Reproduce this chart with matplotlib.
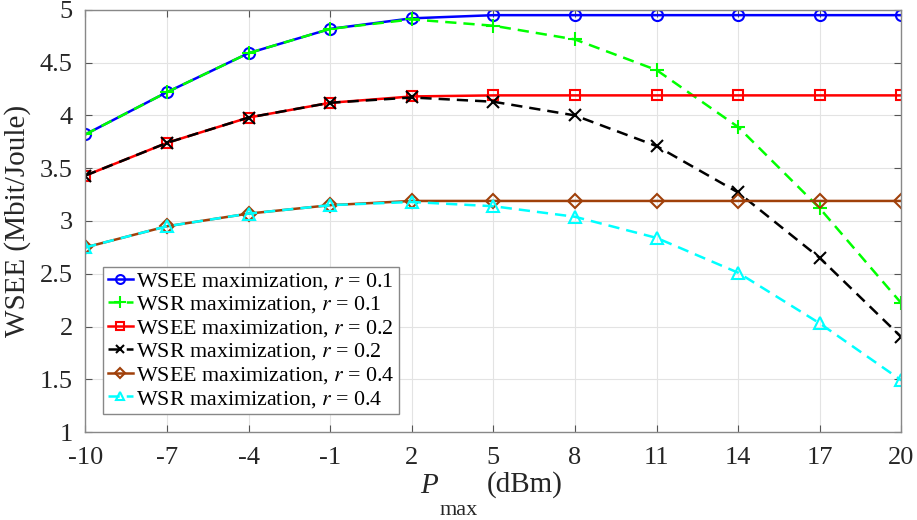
import matplotlib
matplotlib.use("Agg")
import matplotlib.pyplot as plt
import numpy as np

plt.rcParams['font.family'] = ['Liberation Serif', 'DejaVu Serif']
plt.rcParams['mathtext.fontset'] = 'stix'
plt.rcParams['axes.unicode_minus'] = False

p_max = [-10, -7, -4, -1, 2, 5, 8, 11, 14, 17, 20]

wsee_r01 = [3.82, 4.22, 4.59, 4.82, 4.92, 4.95, 4.95, 4.95, 4.95, 4.95, 4.95]
wsr_r01 = [3.82, 4.22, 4.59, 4.82, 4.91, 4.85, 4.72, 4.43, 3.89, 3.12, 2.22]
wsee_r02 = [3.43, 3.74, 3.98, 4.12, 4.18, 4.19, 4.19, 4.19, 4.19, 4.19, 4.19]
wsr_r02 = [3.43, 3.74, 3.98, 4.12, 4.17, 4.13, 4.00, 3.71, 3.27, 2.65, 1.90]
wsee_r04 = [2.75, 2.95, 3.07, 3.15, 3.19, 3.19, 3.19, 3.19, 3.19, 3.19, 3.19]
wsr_r04 = [2.75, 2.95, 3.07, 3.15, 3.18, 3.14, 3.04, 2.84, 2.51, 2.03, 1.49]

fig = plt.figure(figsize=(9.17, 5.2), dpi=100)
ax = fig.add_axes([0.093, 0.169, 0.890, 0.812])

dash = (0, (4.5, 2.8))
ms = 8
ax.plot(p_max, wsee_r01, '-o', color='#0000ff', lw=1.8, ms=ms, mfc='none', mew=1.5,
        label='WSEE maximization, $r$ = 0.1')
ax.plot(p_max, wsr_r01, '+', color='#00ff00', ls=dash, lw=1.8, ms=10, mew=1.5,
        label='WSR maximization, $r$ = 0.1')
ax.plot(p_max, wsee_r02, '-s', color='#ff0000', lw=1.8, ms=7, mfc='none', mew=1.5,
        label='WSEE maximization, $r$ = 0.2')
ax.plot(p_max, wsr_r02, 'x', color='#000000', ls=dash, lw=1.8, ms=8, mew=1.5,
        label='WSR maximization, $r$ = 0.2')
ax.plot(p_max, wsee_r04, '-D', color='#a0400a', lw=1.8, ms=7, mfc='none', mew=1.5,
        label='WSEE maximization, $r$ = 0.4')
ax.plot(p_max, wsr_r04, '^', color='#00ffff', ls=dash, lw=1.8, ms=8, mfc='none', mew=1.5,
        label='WSR maximization, $r$ = 0.4')

ax.set_xlim(-10, 20)
ax.set_ylim(1, 5)
ax.set_xticks(p_max)
ax.set_yticks(np.arange(1, 5.01, 0.5))
ax.set_yticklabels(['1', '1.5', '2', '2.5', '3', '3.5', '4', '4.5', '5'])
ax.grid(True, color='#e3e3e3', lw=0.8)
ax.set_axisbelow(True)
ax.tick_params(direction='in', length=5, color='#555555', labelsize=19,
               labelcolor='#262626', top=True, right=True, pad=9)
ax.tick_params(axis='x', pad=11)
for s in ax.spines.values():
    s.set_color('#888888')
    s.set_linewidth(1.0)

# x label built from pieces so the subscript sits low
fig.text(420 / 917, 1 - 493 / 520, 'P', fontsize=21, style='italic',
         color='#262626', ha='left', va='baseline')
fig.text(440 / 917, 1 - 515 / 520, 'max', fontsize=16,
         color='#262626', ha='left', va='baseline')
fig.text(487 / 917, 1 - 492 / 520, '(dBm)', fontsize=21,
         color='#262626', ha='left', va='baseline')
ax.set_ylabel('WSEE (Mbit/Joule)', fontsize=21, color='#262626', labelpad=6)

leg = ax.legend(loc='lower left', bbox_to_anchor=(0.022, 0.043), fontsize=15.8,
                handlelength=1.15, handletextpad=0.15, labelspacing=0.12,
                borderpad=0.2, borderaxespad=0.0, fancybox=False, framealpha=1,
                markerscale=0.8)
leg.get_frame().set_edgecolor('#888888')
leg.get_frame().set_linewidth(1.0)

fig.savefig('out.png', dpi=100)
